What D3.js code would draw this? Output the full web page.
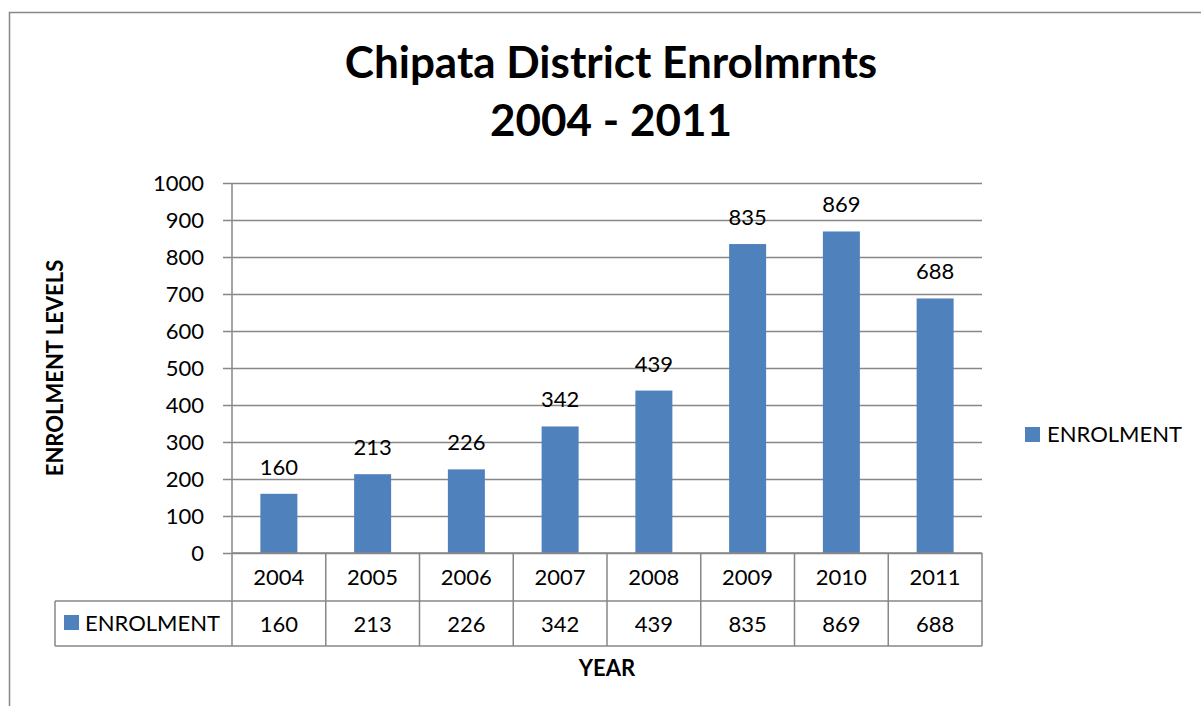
<!DOCTYPE html>
<html>
<head>
<meta charset="utf-8">
<script src="https://cdn.jsdelivr.net/npm/d3@7/dist/d3.min.js"></script>
<style>
  html, body { margin: 0; padding: 0; background: #fff; }
  svg { display: block; }
  text { font-family: Lato, "Open Sans", sans-serif; fill: #000; }
</style>
</head>
<body>
<svg id="chart" width="1201" height="706"></svg>
<script>
// Enrolment figures, Chipata District
const years = ["2004", "2005", "2006", "2007", "2008", "2009", "2010", "2011"];
const enrolment = [160, 213, 226, 342, 439, 835, 869, 688];
const yTicks = [0, 100, 200, 300, 400, 500, 600, 700, 800, 900, 1000];
const seriesName = "ENROLMENT";
const titleLines = ["Chipata District Enrolmrnts", "2004 - 2011"];

const barColor = "#4F81BD";
const lineColor = "#878787";
const fs = 22;

const svg = d3.select("#chart");

// chart frame
svg.append("rect")
  .attr("x", 9.5).attr("y", 12.5)
  .attr("width", 1300).attr("height", 800)
  .attr("fill", "none").attr("stroke", lineColor).attr("stroke-width", 1.5);

const plot = { left: 232, right: 982, top: 183, bottom: 553 };

const x = d3.scaleBand().domain(years).range([plot.left, plot.right]).paddingInner(0).paddingOuter(0);
const y = d3.scaleLinear().domain([0, 1000]).range([plot.bottom, plot.top]);

// horizontal gridlines with left tick marks
const yAxis = d3.axisLeft(y).tickValues(yTicks).tickFormat(d3.format("d"))
  .tickSize(-(plot.right - plot.left));
const gy = svg.append("g").attr("transform", `translate(${plot.left},0)`).call(yAxis);
gy.select(".domain").remove();
gy.selectAll(".tick line").attr("stroke", lineColor).attr("stroke-width", 1.5).attr("x1", -9);
gy.selectAll(".tick text")
  .attr("font-size", fs).attr("font-family", "Lato, sans-serif").attr("fill", "#000")
  .attr("x", -28).attr("dy", "0.36em");

// vertical axis line
svg.append("line")
  .attr("x1", plot.left).attr("x2", plot.left)
  .attr("y1", plot.top).attr("y2", plot.bottom)
  .attr("stroke", lineColor).attr("stroke-width", 1.5);

// bars
const barW = 37;
svg.selectAll("rect.bar").data(enrolment).join("rect")
  .attr("class", "bar")
  .attr("x", (d, i) => x(years[i]) + x.bandwidth() / 2 - barW / 2)
  .attr("width", barW)
  .attr("y", d => y(d))
  .attr("height", d => y(0) - y(d))
  .attr("fill", barColor);

// value labels above bars
svg.selectAll("text.val").data(enrolment).join("text")
  .attr("class", "val")
  .attr("x", (d, i) => x(years[i]) + x.bandwidth() / 2)
  .attr("y", d => y(d) - 19)
  .attr("text-anchor", "middle")
  .attr("font-size", fs)
  .text(d => d);

// data table below the plot
const row1 = { top: 553, bottom: 601 };
const row2 = { top: 601, bottom: 646 };
const tableLeft = 55;
const tbl = svg.append("g").attr("stroke", lineColor).attr("stroke-width", 1.5).attr("fill", "none");
tbl.append("line").attr("x1", plot.left).attr("x2", plot.right).attr("y1", row1.top).attr("y2", row1.top);
tbl.append("line").attr("x1", tableLeft).attr("x2", plot.right).attr("y1", row2.top).attr("y2", row2.top);
tbl.append("line").attr("x1", tableLeft).attr("x2", plot.right).attr("y1", row2.bottom).attr("y2", row2.bottom);
tbl.append("line").attr("x1", tableLeft).attr("x2", tableLeft).attr("y1", row2.top).attr("y2", row2.bottom);
const colEdges = years.map(d => x(d)).concat([x(years[years.length - 1]) + x.bandwidth()]);
tbl.selectAll("line.col").data(colEdges).join("line")
  .attr("class", "col")
  .attr("x1", d => d).attr("x2", d => d)
  .attr("y1", row1.top).attr("y2", row2.bottom);

svg.selectAll("text.yr").data(years).join("text")
  .attr("class", "yr")
  .attr("x", d => x(d) + x.bandwidth() / 2)
  .attr("y", 585)
  .attr("text-anchor", "middle").attr("font-size", fs)
  .text(d => d);

svg.selectAll("text.cell").data(enrolment).join("text")
  .attr("class", "cell")
  .attr("x", (d, i) => x(years[i]) + x.bandwidth() / 2)
  .attr("y", 632)
  .attr("text-anchor", "middle").attr("font-size", fs)
  .text(d => d);

// series key in table
svg.append("rect").attr("x", 64).attr("y", 615).attr("width", 15).attr("height", 15).attr("fill", barColor);
svg.append("text").attr("x", 85).attr("y", 631).attr("font-size", fs).text(seriesName);

// legend on the right
svg.append("rect").attr("x", 1025).attr("y", 427).attr("width", 15).attr("height", 15).attr("fill", barColor);
svg.append("text").attr("x", 1047).attr("y", 442).attr("font-size", fs).text(seriesName);

// title
svg.selectAll("text.title").data(titleLines).join("text")
  .attr("class", "title")
  .attr("x", 611)
  .attr("y", (d, i) => 78 + i * 58)
  .attr("text-anchor", "middle")
  .attr("font-size", 44).attr("font-weight", "bold")
  .text(d => d);

// axis titles
svg.append("text")
  .attr("transform", "translate(63,368) rotate(-90)")
  .attr("text-anchor", "middle").attr("font-size", fs).attr("font-weight", "bold")
  .text("ENROLMENT LEVELS");

svg.append("text")
  .attr("x", 607).attr("y", 676)
  .attr("text-anchor", "middle").attr("font-size", fs).attr("font-weight", "bold")
  .text("YEAR");
</script>
</body>
</html>
